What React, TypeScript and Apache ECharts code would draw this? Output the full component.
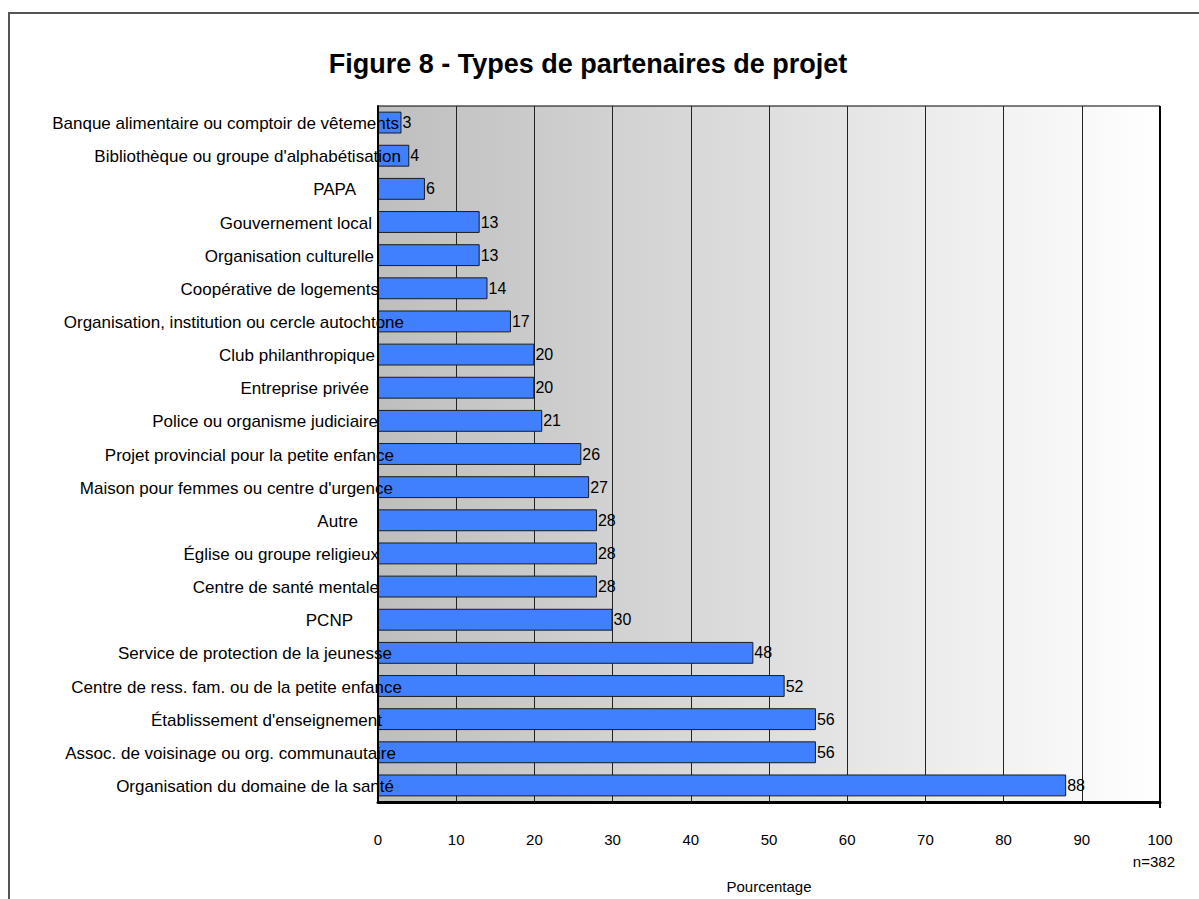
import React, { useEffect, useRef } from "react";
import * as echarts from "echarts";

const categories = [
  "Banque alimentaire ou comptoir de vêtements",
  "Bibliothèque ou groupe d'alphabétisation",
  "PAPA",
  "Gouvernement local",
  "Organisation culturelle",
  "Coopérative de logements",
  "Organisation, institution ou cercle autochtone",
  "Club philanthropique",
  "Entreprise privée",
  "Police ou organisme judiciaire",
  "Projet provincial pour la petite enfance",
  "Maison pour femmes ou centre d'urgence",
  "Autre",
  "Église ou groupe religieux",
  "Centre de santé mentale",
  "PCNP",
  "Service de protection de la jeunesse",
  "Centre de ress. fam. ou de la petite enfance",
  "Établissement d'enseignement",
  "Assoc. de voisinage ou org. communautaire",
  "Organisation du domaine de la santé",
];

const values = [3, 4, 6, 13, 13, 14, 17, 20, 20, 21, 26, 27, 28, 28, 28, 30, 48, 52, 56, 56, 88];

const xTicks = [0, 10, 20, 30, 40, 50, 60, 70, 80, 90, 100];

// layout: right edge (px) of each category label, as placed in the reference
const labelRightEdge = [399, 401, 356, 372, 374, 379, 404, 375, 369, 378, 394, 393, 358, 379, 379, 353, 392, 402, 382, 396, 394];

const FONT = "'Liberation Sans', Arial, sans-serif";

export default function App() {
  const ref = useRef<HTMLDivElement>(null);
  useEffect(() => {
    if (!ref.current) return;
    const chart = echarts.init(ref.current, null, { renderer: "svg" });
    const gridLeft = 378;
    const maxEdge = 406;
    const rich: Record<string, any> = {};
    categories.forEach((_, i) => {
      rich["l" + i] = {
        fontSize: 17,
        color: "#000",
        fontFamily: FONT,
        padding: [2, maxEdge - labelRightEdge[i], 0, 0],
      };
    });
    chart.setOption({
      animation: false,
      backgroundColor: "#fff",
      textStyle: { fontFamily: FONT },
      title: {
        text: "Figure 8 - Types de partenaires de projet",
        left: 583,
        textAlign: "center",
        top: 45,
        textStyle: { fontSize: 27, fontWeight: "bold", color: "#000", fontFamily: FONT },
      },
      grid: {
        left: gridLeft,
        right: 39,
        top: 106,
        bottom: 91,
        show: true,
        borderColor: "#000",
        borderWidth: 1,
        backgroundColor: new echarts.graphic.LinearGradient(0, 0, 1, 0, [
          { offset: 0, color: "#bebebe" },
          { offset: 1, color: "#ffffff" },
        ]),
      },
      xAxis: {
        type: "value",
        min: 0,
        max: 100,
        interval: 10,
        name: "Pourcentage",
        nameLocation: "middle",
        nameGap: 77,
        nameTextStyle: { fontSize: 15, color: "#000", fontFamily: FONT },
        axisLine: { show: true, lineStyle: { color: "#000", width: 3 } },
        axisTick: { show: false },
        axisLabel: {
          fontSize: 15,
          color: "#000",
          margin: 30,
          formatter: (v: number) => (xTicks.includes(v) ? String(v) : ""),
        },
        splitLine: { show: true, lineStyle: { color: "#222", width: 1 } },
      },
      yAxis: {
        type: "category",
        data: categories,
        inverse: true,
        z: 10,
        axisLine: { show: true, lineStyle: { color: "#000", width: 2 } },
        axisTick: { show: false },
        axisLabel: {
          interval: 0,
          margin: gridLeft - maxEdge,
          formatter: (v: string, i: number) => `{l${i}|${v}}`,
          rich,
        },
        splitLine: { show: false },
      },
      series: [
        {
          type: "bar",
          data: values,
          barCategoryGap: "34%",
          itemStyle: { color: "#4080ff", borderColor: "#1a1a1a", borderWidth: 1 },
          label: {
            show: true,
            position: "right",
            distance: 1,
            fontSize: 16,
            color: "#000",
            fontFamily: FONT,
            padding: [3, 0, 0, 0],
          },
        },
      ],
      graphic: [
        {
          type: "rect",
          shape: { x: 9, y: 13, width: 1300, height: 1000 },
          style: { fill: "none", stroke: "#555", lineWidth: 2 },
          silent: true,
        },
        {
          type: "line",
          shape: { x1: 1160, y1: 106, x2: 1160, y2: 808 },
          style: { stroke: "#000", lineWidth: 2 },
          z: 20,
        },
        {
          type: "text",
          right: 24,
          top: 854,
          style: { text: "n=382", fontSize: 15, fill: "#000", fontFamily: FONT, textAlign: "right" },
        },
      ],
    });
    return () => chart.dispose();
  }, []);
  return (
    <div
      ref={ref}
      style={{ position: "fixed", left: 0, top: 0, width: 1199, height: 899 }}
    />
  );
}
